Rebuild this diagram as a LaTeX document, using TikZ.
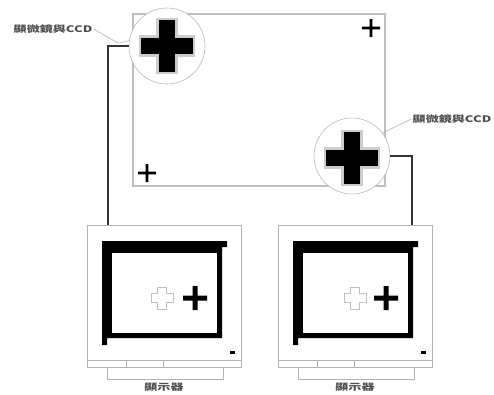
\documentclass[tikz,border=0pt]{standalone}
\usepackage{fontspec}
\newfontfamily\cjk[FakeStretch=1.45]{Noto Sans CJK TC}
\usetikzlibrary{positioning}

% plus sign: centre x, centre y, half length, half width, path style
\newcommand{\drawplus}[5]{%
  \path[shift={(#1,#2)},#5] (-#4,-#3) -- (#4,-#3) -- (#4,-#4) -- (#3,-#4) -- (#3,#4) -- (#4,#4)
    -- (#4,#3) -- (-#4,#3) -- (-#4,#4) -- (-#3,#4) -- (-#3,-#4) -- (-#4,-#4) -- cycle;}

\begin{document}
\begin{tikzpicture}[
    x=1pt, y=-1pt,
    board/.style = {rectangle, draw=gray!50, line width=1.6pt, fill=white,
                    minimum width=252pt, minimum height=172pt, inner sep=0pt},
    loupe/.style = {circle, draw=gray!55, line width=0.6pt, fill=white,
                    minimum size=76pt, inner sep=0pt},
    case/.style = {rectangle, draw=gray!60, line width=1pt, fill=white,
                   minimum width=154pt, minimum height=142pt, inner sep=0pt},
    stand/.style = {draw=gray!60, line width=1pt},
    cable/.style = {draw=black!80, line width=1.4pt},
    leader/.style = {draw=gray!60, line width=0.6pt},
    label/.style = {font={\cjk\bfseries\fontsize{9}{10}\selectfont}, text=black!70, inner sep=1pt},
    bigplus/.style = {draw=gray!40, line width=2.5pt, fill=black},
    ghostplus/.style = {draw=gray!50, line width=0.8pt, fill=white}
]
\useasboundingbox (0,0) rectangle (494,394);

% Board with its corner marks
\node[board] (board) at (259,100) {};
\drawplus{371}{28}{9}{1.3}{fill=black}
\drawplus{147}{173}{9}{1.3}{fill=black}

% Loupes over two of the marks
\node[loupe] (loupeL) at (167,46) {};
\node[loupe] (loupeR) at (352,156) {};
\drawplus{167}{46}{27}{9.5}{bigplus}
\drawplus{352}{158}{27}{9.5}{bigplus}

% Labels and leaders
\node[label] (labelL) at (53,29) {顯微鏡與CCD};
\node[label] (labelR) at (452,119) {顯微鏡與CCD};
\draw[leader] (labelL.east) -- (118,43) -- (loupeL.172);
\draw[leader] (labelR.west) -- (loupeR.37);

% Monitors
\node[case] (monL) at (164,296) {};
\node[case] (monR) at (355,296) {};
\coordinate (jackL) at (108,225);
\coordinate (jackR) at (412,225);

% Left monitor
\draw[stand] (87,360) -- (241,360) (126,360) -- (126,367) (163,360) -- (163,367);
\draw[stand] (107,367) -- (107,379) -- (223,379) -- (223,367);
\fill[black] (102,241) rectangle (222,338) (222,241) rectangle (227,247) (102,338) rectangle (107,345);
\fill[white] (112,253) rectangle (217,333);
\drawplus{162}{298}{11}{4.5}{ghostplus}
\drawplus{195}{298}{12}{2.5}{fill=black}
\fill[black] (230,351) rectangle (235,353.5);
\node[label] (nameL) at (164,387) {顯示器};

% Right monitor
\draw[stand] (278,360) -- (432,360) (317,360) -- (317,367) (354,360) -- (354,367);
\draw[stand] (298,367) -- (298,379) -- (414,379) -- (414,367);
\fill[black] (293,241) rectangle (413,338) (413,241) rectangle (418,247) (293,338) rectangle (298,345);
\fill[white] (303,253) rectangle (408,333);
\drawplus{355}{298}{11}{4.5}{ghostplus}
\drawplus{386}{298}{12}{2.5}{fill=black}
\fill[black] (421,351) rectangle (426,353.5);
\node[label] (nameR) at (355,387) {顯示器};

% Cables from the loupes to the monitors
\draw[cable] (loupeL.west) -| (jackL);
\draw[cable] (loupeR.east) -| (jackR);

\end{tikzpicture}
\end{document}
